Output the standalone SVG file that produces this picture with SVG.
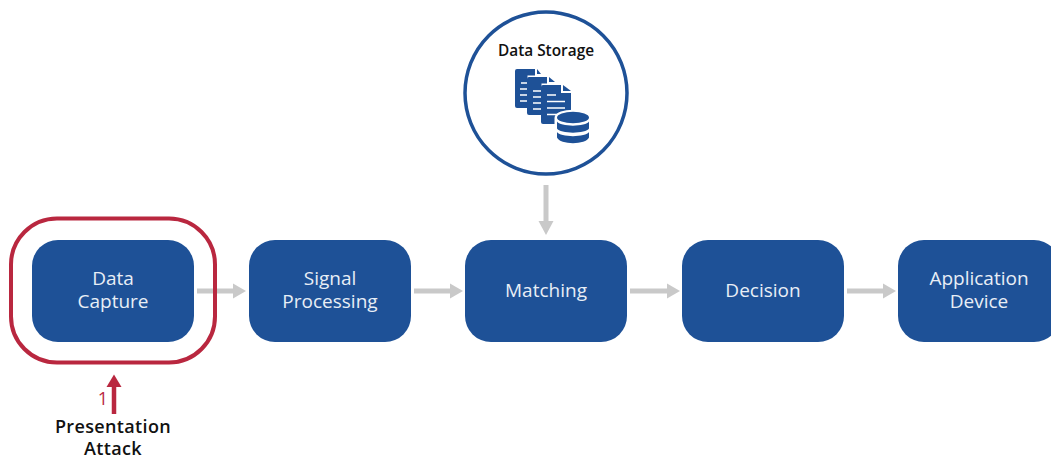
<svg xmlns="http://www.w3.org/2000/svg" width="1051" height="459" viewBox="0 0 1051 459">
<style>
.b{fill:#1e5197}
.t{font-family:"Open Sans","Noto Sans",sans-serif;font-size:19px;fill:#e8eef6;text-anchor:middle}
.k{font-family:"Open Sans","Noto Sans",sans-serif;font-size:18px;font-weight:600;fill:#111;text-anchor:middle;letter-spacing:.35px}
.c{stroke:#c9c9c9;stroke-width:5;fill:none}
.h{fill:#c9c9c9}
.w{stroke:#fff;stroke-width:1.600;fill:none}
.g{fill:#fff;stroke:#fff;stroke-width:3}
</style>
<rect width="1051" height="459" fill="#fff"/>
<g id="connectors">
<path class="c" d="M197 291H233"/><path class="h" d="M233 283.500L246 291L233 298.500Z"/>
<path class="c" d="M414 291H450"/><path class="h" d="M450 283.500L463 291L450 298.500Z"/>
<path class="c" d="M630 291H667"/><path class="h" d="M667 283.500L680 291L667 298.500Z"/>
<path class="c" d="M847 291H883"/><path class="h" d="M883 283.500L896 291L883 298.500Z"/>
<path class="c" d="M546 185V222"/><path class="h" d="M538.500 221L546 235L553.500 221Z"/>
<path d="M114 414V386" stroke="#b9273f" stroke-width="4.500" fill="none"/><path d="M106.500 387L114 374.500L121.500 387Z" fill="#b9273f"/>
</g>
<g id="attack-outline"><rect x="11" y="218.500" width="204" height="144" rx="46" fill="none" stroke="#b9273f" stroke-width="4"/></g>
<g id="data-capture"><rect class="b" x="32" y="240" width="162" height="102" rx="26"/><text class="t" x="113" y="285">Data</text><text class="t" x="113" y="308">Capture</text></g>
<g id="signal-processing"><rect class="b" x="249" y="240" width="162" height="102" rx="26"/><text class="t" x="330" y="285">Signal</text><text class="t" x="330" y="308">Processing</text></g>
<g id="matching"><rect class="b" x="465" y="240" width="162" height="102" rx="26"/><text class="t" x="546" y="296.500">Matching</text></g>
<g id="decision"><rect class="b" x="682" y="240" width="162" height="102" rx="26"/><text class="t" x="763" y="296.500">Decision</text></g>
<g id="application-device"><rect class="b" x="898" y="240" width="162" height="102" rx="26"/><text class="t" x="979" y="285">Application</text><text class="t" x="979" y="308">Device</text></g>
<g id="data-storage">
<circle cx="546" cy="93" r="81" fill="#fff" stroke="#1e5197" stroke-width="3.500"/>
<text x="546" y="56" font-family="'Open Sans','Noto Sans',sans-serif" font-size="15.400" font-weight="600" fill="#111" text-anchor="middle">Data Storage</text>
<g id="storage-icon">
<path class="b" d="M517 69H535V76H541V104Q541 108 538 108H517Q515 108 515 106V71Q515 69 517 69Z"/><path class="b" d="M537 69L541 74H537Z"/>
<path class="w" d="M521 83H527M520 89H527M520 95H527M520 101H527"/>
<path class="g" d="M529 77H547V84H555V115H529Z"/>
<path class="b" d="M529 77H547V84H555V112Q555 115 552 115H529Q527 115 527 113V79Q527 77 529 77Z"/><path class="b" d="M549 77L555 82H549Z"/>
<path class="w" d="M533 91H541M533 97H541M533 103H541M533 109H541"/>
<path class="g" d="M543 85H561V92H571V124H543Z"/>
<path class="b" d="M543 85H561V93H571V121Q571 124 568 124H543Q541 124 541 122V87Q541 85 543 85Z"/><path class="b" d="M563 85L571 91H563Z"/>
<path class="w" d="M547 95H556M547 101.500H565M547 108H565M547 114.500H565"/>
<path class="g" d="M556 118C556 109 590 109 590 118V137C590 146 556 146 556 137Z"/>
<ellipse class="b" cx="573" cy="117.500" rx="16" ry="5.800"/>
<path class="b" d="M557 121.500C560 127 586 127 589 121.500V128.500C586 134 560 134 557 128.500Z"/>
<path class="b" d="M557 132C560 137.500 586 137.500 589 132V137.500C586 145 560 145 557 137.500Z"/>
</g>
</g>
<g id="presentation-attack"><text x="103" y="405" font-family="'Open Sans','Noto Sans',sans-serif" font-size="18" fill="#b9273f" text-anchor="middle">1</text><text class="k" x="113" y="433">Presentation</text><text class="k" x="113" y="455">Attack</text></g>
</svg>
